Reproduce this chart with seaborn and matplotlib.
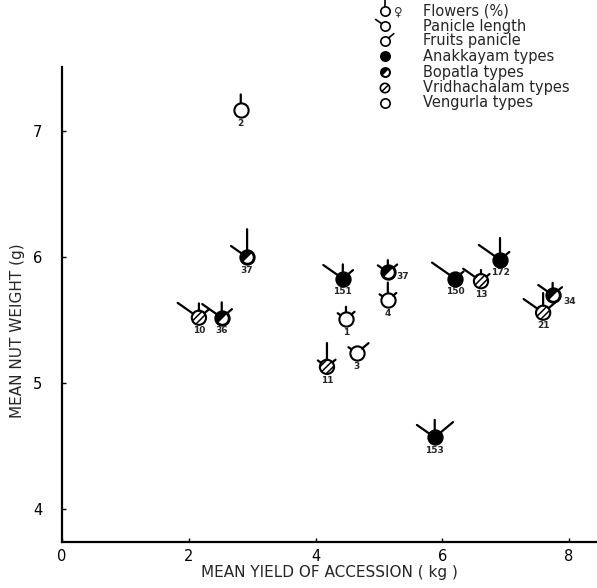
import numpy as np
import pandas as pd
import matplotlib
matplotlib.use("Agg")
import matplotlib.pyplot as plt
from matplotlib.markers import MarkerStyle
from matplotlib.transforms import Affine2D
import seaborn as sns

# -----------------------------------------
# data
# -----------------------------------------
accession = ["2", "37", "10", "36", "151", "37", "4", "1",
             "11", "3", "150", "13", "172", "34", "21", "153"]
group = ["Vengurla", "Bopatla", "Vridhachalam", "Bopatla", "Anakkayam",
         "Bopatla", "Vengurla", "Vengurla", "Vridhachalam", "Vengurla",
         "Anakkayam", "Vridhachalam", "Anakkayam", "Bopatla",
         "Vridhachalam", "Anakkayam"]
yield_kg = [2.82, 2.92, 2.16, 2.52, 4.43, 5.14, 5.14, 4.48,
            4.18, 4.65, 6.20, 6.61, 6.91, 7.74, 7.59, 5.88]
nut_wt = [7.17, 6.00, 5.52, 5.52, 5.83, 5.88, 5.66, 5.51,
          5.13, 5.24, 5.83, 5.81, 5.98, 5.70, 5.56, 4.57]
# ray scores (relative lengths of the glyph rays)
flowers = [1.6, 4.0, 1.4, 1.6, 1.4, 1.0, 2.0, 1.0,
           3.2, 0.0, 0.0, 0.8, 2.8, 1.0, 2.4, 2.0]
panicle_len = [0.0, 2.4, 3.6, 3.2, 3.2, 1.0, 0.6, 0.6,
               0.8, 0.6, 4.0, 2.8, 3.6, 2.0, 3.2, 2.8]
fruits = [0.0, 0.0, 1.2, 1.2, 1.2, 1.0, 0.8, 0.8,
          0.8, 1.6, 0.8, 0.8, 1.0, 1.0, 1.6, 3.2]

legend_rays = ["Flowers (%)", "Panicle length", "Fruits panicle"]
legend_types = ["Anakkayam", "Bopatla", "Vridhachalam", "Vengurla"]

df = pd.DataFrame({"acc": accession, "group": group, "x": yield_kg,
                   "y": nut_wt, "fl": flowers, "pl": panicle_len,
                   "fr": fruits})

# label offsets (points) - most sit under the glyph
label_off = [(0, -9.5)] * len(df)
label_off[5] = (11, -3)
label_off[13] = (12, -5)

sns.set_style("ticks")
plt.rcParams["font.family"] = ["DejaVu Sans"]
plt.rcParams["hatch.linewidth"] = 1.1

fig = plt.figure(figsize=(5.97, 5.88), dpi=100)
ax = fig.add_axes([62 / 597, 46 / 588, 535 / 597, 475 / 588])

RAY_UNIT = 3.8   # points per score unit
ANGLES = {"fl": 90, "pl": 145, "fr": 40}


def draw_circles(ax, d, s, lw):
    for g in legend_types:
        sub = d[d.group == g]
        if sub.empty:
            continue
        face = "black" if g in ("Anakkayam", "Bopatla") else "white"
        hatch = "/////" if g == "Vridhachalam" else None
        sns.scatterplot(data=sub, x="x", y="y", ax=ax, s=s, color=face,
                        edgecolor="black", linewidth=lw, zorder=3,
                        hatch=hatch, legend=False, clip_on=False)
        if g == "Bopatla":
            # white crescent in the lower right
            half = MarkerStyle("o", fillstyle="right",
                               transform=Affine2D().rotate_deg(-45))
            ax.scatter(sub.x, sub.y, s=s * 0.55, marker=half, color="white",
                       linewidth=0, zorder=4, clip_on=False)


def draw_rays(ax, x, y, rays, r_pt, lw):
    for key, val in rays.items():
        if val <= 0:
            continue
        a = np.deg2rad(ANGLES[key])
        L = r_pt + val * RAY_UNIT
        ax.annotate("", xy=(x, y), xytext=(L * np.cos(a), L * np.sin(a)),
                    textcoords="offset points", annotation_clip=False,
                    arrowprops=dict(arrowstyle="-", lw=lw, color="black",
                                    shrinkA=0, shrinkB=r_pt))


# -----------------------------------------
# main glyphs
# -----------------------------------------
draw_circles(ax, df, 105, 1.5)
for i, row in df.iterrows():
    draw_rays(ax, row.x, row.y, {"fl": row.fl, "pl": row.pl, "fr": row.fr},
              5.0, 1.6)
    ax.annotate(row.acc, xy=(row.x, row.y), xytext=label_off[i],
                textcoords="offset points", ha="center", va="center",
                fontsize=6.5, fontweight="bold")

ax.set_xlim(0, 8.44)
ax.set_ylim(3.74, 7.51)
ax.set_xticks([0, 2, 4, 6, 8])
ax.set_yticks([4, 5, 6, 7])
ax.tick_params(axis="both", direction="in", length=3, width=1,
               labelsize=10.5, colors="black")
ax.tick_params(axis="y", pad=14)
ax.tick_params(axis="x", pad=5)
sns.despine(ax=ax)
for sp in ["left", "bottom"]:
    ax.spines[sp].set_linewidth(1.6)
    ax.spines[sp].set_color("black")
ax.set_xlabel("MEAN YIELD OF ACCESSION ( kg )", fontsize=11, labelpad=1)
ax.set_ylabel("MEAN NUT WEIGHT (g)", fontsize=11)
ax.yaxis.set_label_coords(-0.07, 0.445)

# -----------------------------------------
# key (top right)
# -----------------------------------------
lax = fig.add_axes([375 / 597, 1 - 115 / 588, 222 / 597, 115 / 588])
lax.set_xlim(0, 222)
lax.set_ylim(115, 0)
lax.axis("off")

rows_y = [11, 26, 41, 56, 72, 88, 103]
key_df = pd.DataFrame({"x": [10] * 7, "y": rows_y,
                       "group": ["Vengurla"] * 3 + legend_types})
draw_circles(lax, key_df, 45, 1.2)
for k, key in enumerate(["fl", "pl", "fr"]):
    draw_rays(lax, 10, rows_y[k], {key: 1.3}, 3.3, 1.2)
lax.text(23, rows_y[0] + 1, "\u2640", fontsize=8.5, ha="center", va="center")
for k, txt in enumerate(legend_rays + [t + " types" for t in legend_types]):
    lax.text(48, rows_y[k], txt, fontsize=10.5, ha="left", va="center")

fig.savefig("out.png", dpi=100)
